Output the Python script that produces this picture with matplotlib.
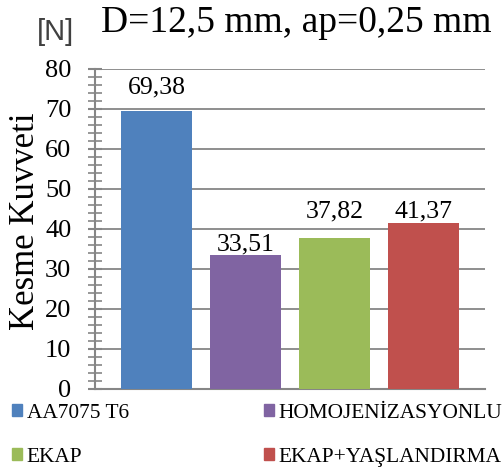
import matplotlib.pyplot as plt
from matplotlib.patches import Patch
from matplotlib.ticker import MultipleLocator

groups = ['AA7075 T6', 'HOMOJENİZASYONLU', 'EKAP', 'EKAP+YAŞLANDIRMA']
kesme = [69.38, 33.51, 37.82, 41.37]
renkler = ['#4F81BD', '#8064A2', '#9BBB59', '#C0504D']
y_ticks = [0, 10, 20, 30, 40, 50, 60, 70, 80]

# label baseline distance above each bar top, in points
label_gap = [12.7, 2.9, 14.4, 4.3]

serif = 'Liberation Serif'
grid_gray = '#868686'

fig = plt.figure(figsize=(5.04, 4.72), dpi=100)
ax = fig.add_axes([0.1885, 0.176, 0.774, 0.678])

x = list(range(len(groups)))
ax.bar(x, kesme, width=0.8, color=renkler, zorder=3)
for xi, v, g in zip(x, kesme, label_gap):
    ax.annotate(f'{v:.2f}'.replace('.', ','), (xi, v), xytext=(0, g),
                textcoords='offset points', ha='center', va='baseline',
                fontsize=18.5, family=serif, zorder=4)

ax.set_xlim(-0.69, len(groups) - 0.31)
ax.set_ylim(0, 80)
ax.set_yticks(y_ticks)
ax.set_yticklabels([str(t) for t in y_ticks], family=serif, fontsize=19)
ax.yaxis.set_minor_locator(MultipleLocator(2))
ax.set_xticks([])
ax.tick_params(axis='y', which='major', direction='inout', length=10, width=1.5,
               color=grid_gray, pad=12)
ax.tick_params(axis='y', which='minor', direction='inout', length=10, width=1.2,
               color=grid_gray)
ax.grid(axis='y', color=grid_gray, linewidth=1.3, zorder=0)

for s in ['top', 'right']:
    ax.spines[s].set_visible(False)
ax.spines['left'].set_color(grid_gray)
ax.spines['left'].set_linewidth(1.5)
ax.spines['bottom'].set_color(grid_gray)
ax.spines['bottom'].set_linewidth(1.5)

fig.text(26 / 504, 1 - 221.5 / 472, 'Kesme Kuvveti', rotation=90, ha='center',
         va='center', family=serif, fontsize=25)

fig.text(0.588, 0.932, 'D=12,5 mm, ap=0,25 mm', ha='center', va='baseline',
         family=serif, fontsize=27)
fig.text(55.5 / 504, 1 - 32.5 / 472, '[N]', ha='center', va='center',
         family='Liberation Sans', fontsize=21, color='#404040')

handles = [Patch(color=c) for c in renkler]
order = [0, 2, 1, 3]
fig.legend([handles[i] for i in order], [groups[i] for i in order], ncol=2,
           loc='center left', bbox_to_anchor=(0.015, 0.078), frameon=False,
           prop={'family': serif, 'size': 15.4}, handlelength=0.47,
           handleheight=0.47, handletextpad=0.23, labelspacing=1.18,
           columnspacing=6.3, borderpad=0.2, borderaxespad=0)

fig.savefig('out.png', dpi=100)
